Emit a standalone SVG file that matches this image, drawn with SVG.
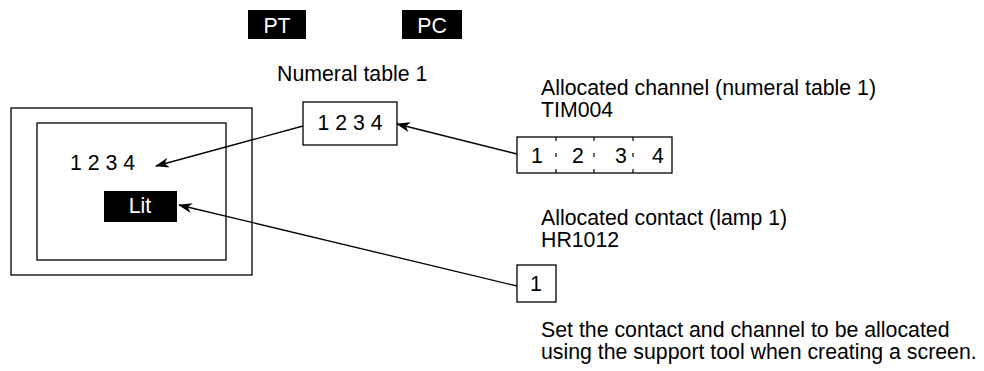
<svg xmlns="http://www.w3.org/2000/svg" width="984" height="371" viewBox="0 0 984 371">
<defs>
<style>
text{font-family:"Liberation Sans",Arial,sans-serif;font-size:21.3px;fill:#000}
.w{fill:#fff}
.box{fill:#fff;stroke:#000;stroke-width:1.3}
.blk{fill:#000}
.c{text-anchor:middle}
.ln{fill:none;stroke:#000;stroke-width:1.3}
.div{stroke:#000;stroke-width:1.2;stroke-dasharray:4 12}
</style>
<marker id="ah" viewBox="0 0 14 10" refX="13" refY="5" markerWidth="14" markerHeight="10" markerUnits="userSpaceOnUse" orient="auto">
<path d="M0,0 L14,5 L0,10 L4,5 z" fill="#000"/>
</marker>
</defs>
<rect width="984" height="371" fill="#fff"/>
<g id="pt-label"><rect class="blk" x="248" y="10" width="58" height="29"/><text class="w c" x="277" y="33">PT</text></g>
<g id="pc-label"><rect class="blk" x="402" y="10" width="60" height="29"/><text class="w c" x="432" y="33">PC</text></g>
<g id="pt-screen">
<rect class="box" x="11" y="108" width="241" height="167"/>
<rect class="box" x="37" y="123" width="189" height="137"/>
<text x="70" y="170">1 2 3 4</text>
<rect class="blk" x="104" y="191" width="73" height="31"/>
<text class="w c" x="140" y="213">Lit</text>
</g>
<g id="numeral-table">
<text x="277" y="81">Numeral table 1</text>
<rect class="box" x="303" y="102" width="94" height="43"/>
<text class="c" x="350" y="130">1 2 3 4</text>
</g>
<g id="channel">
<text x="541" y="95">Allocated channel (numeral table 1)</text>
<text x="541" y="117">TIM004</text>
<rect class="box" x="517" y="137" width="155" height="36"/>
<line class="div" x1="556" y1="137" x2="556" y2="173"/>
<line class="div" x1="594" y1="137" x2="594" y2="173"/>
<line class="div" x1="633" y1="137" x2="633" y2="173"/>
<text class="c" x="537" y="163">1</text>
<text class="c" x="578" y="163">2</text>
<text class="c" x="621" y="163">3</text>
<text class="c" x="658" y="163">4</text>
</g>
<g id="contact">
<text x="541" y="225">Allocated contact (lamp 1)</text>
<text x="541" y="247">HR1012</text>
<rect class="box" x="517" y="265" width="39" height="37"/>
<text class="c" x="536" y="291">1</text>
</g>
<g id="note">
<text x="541" y="337">Set the contact and channel to be allocated</text>
<text x="541" y="359">using the support tool when creating a screen.</text>
</g>
<g id="connectors">
<line class="ln" x1="303" y1="126" x2="156" y2="166" marker-end="url(#ah)"/>
<line class="ln" x1="517" y1="154" x2="397" y2="124" marker-end="url(#ah)"/>
<line class="ln" x1="517" y1="286" x2="179" y2="205" marker-end="url(#ah)"/>
</g>
</svg>
